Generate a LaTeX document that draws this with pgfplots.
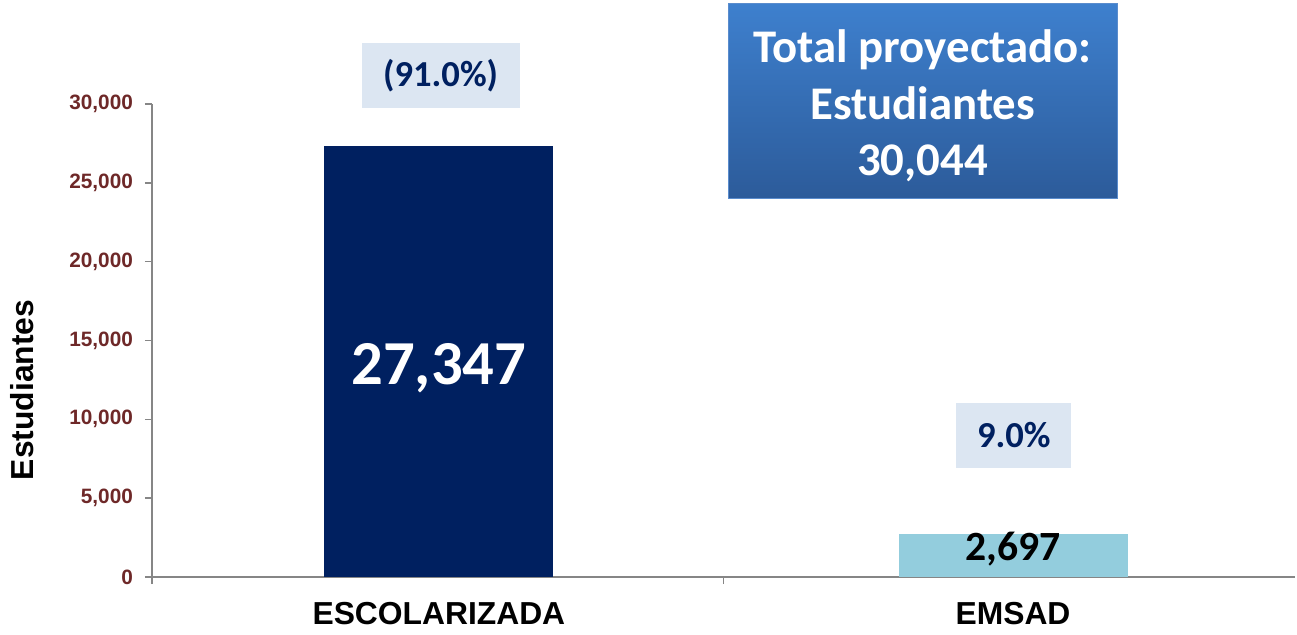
\documentclass[border=0pt]{standalone}
\usepackage{fontspec}
\setmainfont{Liberation Sans}
\newfontfamily\calib{Carlito}
\usepackage{pgfplots}
\pgfplotsset{compat=1.18}
\definecolor{navy}{RGB}{0,32,96}
\definecolor{lightbar}{RGB}{147,205,221}
\definecolor{ticklab}{RGB}{110,40,40}
\definecolor{axgray}{RGB}{134,134,134}
\definecolor{pctbox}{RGB}{220,230,242}
\definecolor{boxtop}{RGB}{62,128,206}
\definecolor{boxbot}{RGB}{44,91,154}
\definecolor{boxedge}{RGB}{90,140,205}

\begin{document}
\begin{tikzpicture}
\begin{axis}[
    scale only axis, width=571.5pt, height=236.5pt,
    xmin=-0.5, xmax=1.5, ymin=0, ymax=30000,
    axis x line=bottom, axis y line=left,
    axis line style={-, draw=axgray, line width=0.8pt},
    tick align=outside, major tick length=3.5pt,
    tick style={draw=axgray, line width=0.8pt},
    xtick={-0.5,0.5}, xticklabels={},
    ytick={0,5000,...,30000},
    scaled y ticks=false,
    yticklabel style={font=\fontsize{10.4}{12}\selectfont\bfseries, text=ticklab, xshift=-2.5pt,
        /pgf/number format/.cd, 1000 sep={,}, assume math mode=true},
    ylabel={Estudiantes},
    ylabel style={font=\fontsize{15.9}{18}\selectfont\bfseries,
        at={(axis description cs:-0.1137,0.3953)}, anchor=center},
    clip=false,
]
\addplot[ybar, bar shift=0pt, bar width=114.5pt, fill=navy, draw=none] coordinates {(0.002,27347)};
\addplot[ybar, bar shift=0pt, bar width=114.5pt, fill=lightbar, draw=none] coordinates {(1.0066,2697)};

% category labels
\node[anchor=base, font=\fontsize{15.9}{18}\selectfont\bfseries, yshift=-23.75pt] at (axis cs:0.002,0) {ESCOLARIZADA};
\node[anchor=base, font=\fontsize{15.9}{18}\selectfont\bfseries, yshift=-23.75pt] at (axis cs:1.0066,0) {EMSAD};

% value labels
\node[text=white, font=\calib\fontsize{31.3}{36}\selectfont\bfseries] at (axis cs:0.002,13220) {27,347};
\node[text=black, font=\calib\fontsize{20.8}{24}\selectfont\bfseries] at (axis cs:1.0066,1800) {2,697};

% percentage boxes
\node[fill=pctbox, minimum width=79pt, minimum height=32.5pt, inner sep=0pt,
      text=navy, font=\calib\fontsize{18.3}{22}\selectfont\bfseries] at (axis cs:0.005,31811) {(91.0\%)};
\node[fill=pctbox, minimum width=57.5pt, minimum height=32.5pt, inner sep=0pt,
      text=navy, font=\calib\fontsize{18.3}{22}\selectfont\bfseries] at (axis cs:1.008,8994) {9.0\%};
\end{axis}

% total box
\shade[top color=boxtop, bottom color=boxbot, draw=boxedge, line width=0.4pt]
    (288pt,189.5pt) rectangle (482.5pt,287pt);
\node[text=white, align=center, font=\calib\fontsize{23.4}{28.25}\selectfont\bfseries]
    at (385.25pt,235.5pt) {Total proyectado:\\Estudiantes\\30,044};

\path (-76pt,-28.5pt) rectangle (572.5pt,288.5pt);
\end{tikzpicture}
\end{document}
